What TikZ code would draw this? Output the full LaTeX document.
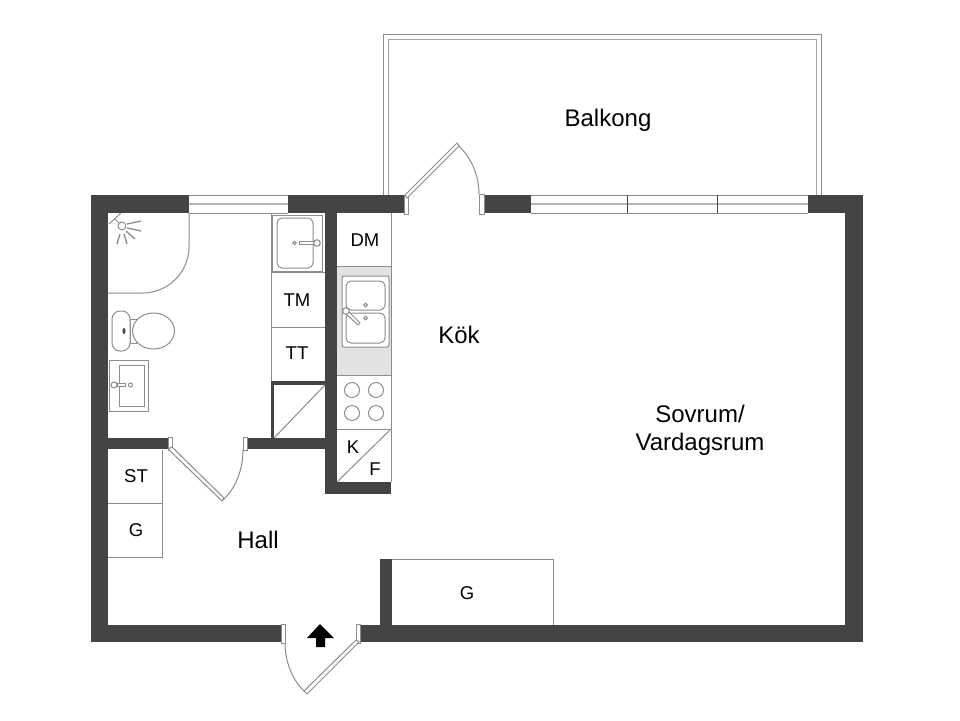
\documentclass[tikz,border=0pt]{standalone}
\usepackage{fontspec}
\setmainfont{Liberation Sans}
\usepackage{tikz}
\definecolor{wallc}{HTML}{444444}
\definecolor{linec}{HTML}{8C8C8C}
\definecolor{railc}{HTML}{B4B4B4}
\definecolor{sinkc}{HTML}{E2E2E2}
\tikzstyle{Wall}=[fill=wallc, draw=none]
\tikzstyle{Fixture}=[draw=linec, line width=1pt]
\tikzstyle{Rail}=[draw=railc, line width=2.2pt]
\tikzstyle{Jamb}=[draw=linec, fill=white, line width=1pt]
\tikzstyle{Room}=[font=\fontsize{24}{28}\selectfont, inner sep=0, align=center, text=black]
\tikzstyle{Unit}=[font=\fontsize{18.5}{22}\selectfont, inner sep=0, text=black]

\begin{document}
\begin{tikzpicture}[x=1pt, y=-1pt]
    \useasboundingbox (0,0) rectangle (960,720);

    % balcony
    \draw[draw=linec, line width=1.2pt] (383.5,195) |- (821.5,34.5) -- (821.5,195);
    \draw[draw=linec!80, line width=1.6pt] (388.5,195) |- (816.5,39.5) -- (816.5,195);

    % counter and units
    \fill[sinkc] (337,266) rectangle (391,375);
    \draw[Fixture] (391,213) -- (391,482);
    \draw[Fixture] (337,266) -- (391,266);
    \draw[Fixture] (337,375) -- (391,375);
    \draw[Fixture] (337,429) -- (391,429);
    \draw[Fixture] (337,482) -- (391,429);
    \draw[Fixture] (271,213) -- (271,381);
    \draw[Fixture] (271,272) -- (325,272);
    \draw[Fixture] (271,327) -- (325,327);
    \draw[Fixture] (274,438) -- (325,385);
    \draw[Fixture] (162,450) |- (108,503);
    \draw[Fixture] (162,503) |- (108,557);
    \draw[Fixture] (392,559) -| (553,625);

    % walls
    \path[Wall] (91,195) rectangle (189,213);
    \path[Wall] (288,195) rectangle (404,213);
    \path[Wall] (484,195) rectangle (531,213);
    \path[Wall] (808,195) rectangle (863,213);
    \path[Wall] (91,195) rectangle (108,642);
    \path[Wall] (845,195) rectangle (863,642);
    \path[Wall] (91,625) rectangle (281,642);
    \path[Wall] (360,625) rectangle (863,642);
    \path[Wall] (325,213) rectangle (337,494);
    \path[Wall] (325,482) rectangle (391,494);
    \path[Wall] (108,438) rectangle (168,449);
    \path[Wall] (247,438) rectangle (337,449);
    \path[Wall] (271,381) rectangle (325,385);
    \path[Wall] (271,381) rectangle (274,438);
    \path[Wall] (380,559) rectangle (392,625);

    % windows
    \draw[Fixture] (189,195) -- (288,195) (189,213) -- (288,213);
    \draw[Rail] (189,204) -- (288,204);
    \draw[Fixture] (531,195) -- (808,195) (531,213) -- (808,213);
    \draw[Rail] (531,204) -- (808,204);
    \draw[draw=wallc, line width=0.8pt] (627,195) -- (627,213) (717.5,195) -- (717.5,213);

    % doors
    \draw[Jamb] (404,195) rectangle (408,214);
    \draw[Jamb] (479,194) rectangle (484,214);
    \draw[Jamb] (405,195) -- (457,143) -- (459,146) -- (407,198) -- cycle;
    \draw[Fixture] (459,146) .. controls (472,159) and (479,176) .. (479,194);
    \draw[Jamb] (168,437) rectangle (172,450);
    \draw[Jamb] (243,437) rectangle (247,450);
    \draw[Jamb] (168,449) -- (172,447) -- (224,498) -- (222,501) -- cycle;
    \draw[Fixture] (243,450) .. controls (243,469) and (236,488) .. (223,500);
    \draw[Jamb] (281,624) rectangle (285,643);
    \draw[Jamb] (356,624) rectangle (360,643);
    \draw[Jamb] (359,642) -- (307,694) -- (304,691) -- (356,640) -- cycle;
    \draw[Fixture] (285,643) .. controls (285,661) and (292,680) .. (305,692);
    \fill[black] (320,624) -- (334,638) -- (325,638) -- (325,647) -- (316,647) -- (316,638) -- (307,638) -- cycle;

    % shower
    \draw[Fixture] (189,213) -- (189,247) .. controls (189,272) and (168,293) .. (143,293) -- (108,293);
    \draw[Fixture] (109,224) -- (121,213) (115,219) -- (119,223);
    \draw[Fixture] (122,226) circle (4);
    \draw[Fixture, line width=1.3pt] (127,224) -- (141,221) (127,228) -- (141,231) (126,231) -- (135,239) (124,234) -- (127,244) (120,234) -- (117,244);

    % toilet
    \draw[Fixture] (130,319) rectangle (136,343);
    \draw[Fixture, fill=white] (153.5,331) ellipse (21 and 18);
    \draw[Fixture, fill=white, rounded corners=8] (112,311) rectangle (130,351);
    \fill[wallc] (124,331) ellipse (1.5 and 3);

    % basin
    \draw[Fixture] (109,360) rectangle (148,411);
    \draw[Fixture] (119,365) rectangle (144,406);
    \draw[Fixture, fill=white] (117,383.5) rectangle (125,386.5);
    \draw[Fixture, fill=white] (114,385) circle (3);
    \draw[Fixture] (130.5,385) circle (2);

    % washing sink
    \draw[Fixture] (272,215) rectangle (322,271);
    \draw[Fixture, rounded corners=5] (277,218) rectangle (313,268);
    \draw[Fixture, fill=white] (299,241.5) rectangle (314,244.5);
    \draw[Fixture, fill=white] (317,243) circle (3.3);
    \draw[Fixture] (294.5,243) circle (1.7);

    % kitchen sink
    \draw[Fixture, rounded corners=2, fill=white] (342,276) rectangle (389,347);
    \draw[Fixture, rounded corners=5] (346,281) rectangle (385,310);
    \draw[Fixture, rounded corners=5] (346,313) rectangle (385,343);
    \draw[Fixture] (365.5,305) circle (1.8);
    \draw[Fixture] (365.5,318) circle (1.8);
    \draw[Fixture, fill=white] (345,313) -- (347,310) -- (360,323) -- (358,325) -- cycle;
    \draw[Fixture, fill=white] (346,311) circle (3.3);

    % stove
    \draw[Fixture] (352,390) circle (7.5);
    \draw[Fixture] (376,390) circle (7.5);
    \draw[Fixture] (352,413) circle (7.5);
    \draw[Fixture] (376,413) circle (7.5);

    \path
    (608,120) node[Room] (balkong) {Balkong}
    (459,335) node[Room] (kok) {Kök}
    (700,430) node[Room] (sovrum) {Sovrum/\\Vardagsrum}
    (258,540) node[Room] (hall) {Hall}
    (365,240) node[Unit] (dm) {DM}
    (297,300) node[Unit] (tm) {TM}
    (297,353) node[Unit] (tt) {TT}
    (353,447) node[Unit] (kyl) {K}
    (375,469) node[Unit] (frys) {F}
    (136,476) node[Unit] (st) {ST}
    (136,530) node[Unit] (hallg) {G}
    (467,593) node[Unit] (roomg) {G};
\end{tikzpicture}
\end{document}
